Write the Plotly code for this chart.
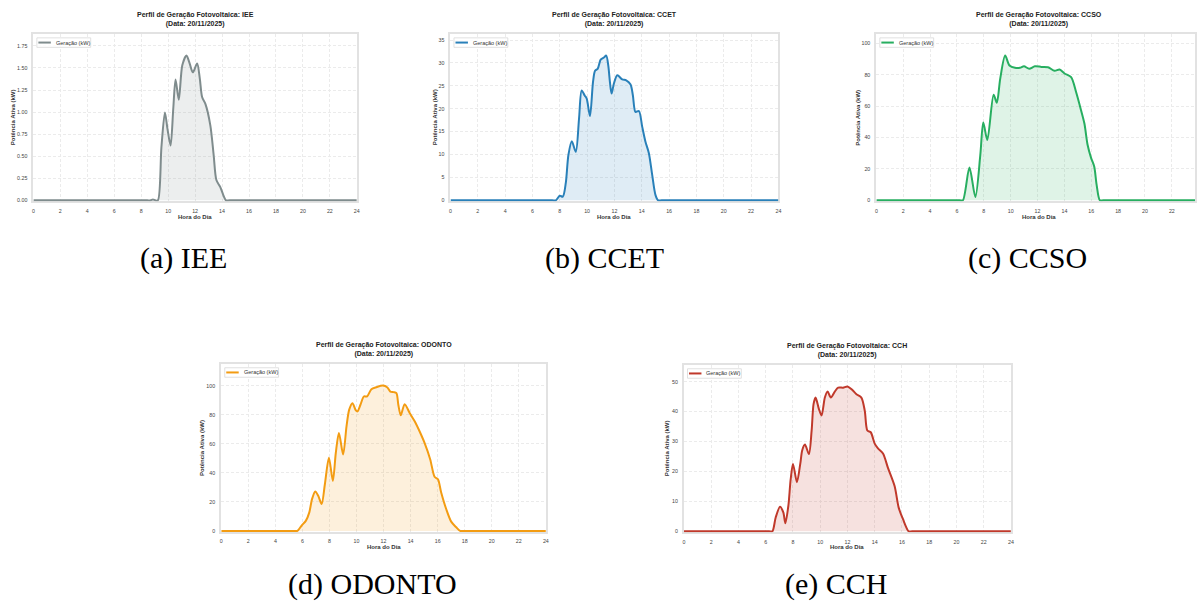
import plotly.graph_objects as go

W, H = 1198, 601

# ---------------- data ----------------
iee_hours = [0, 4, 8.45, 8.7, 8.87, 9.05, 9.24, 9.5, 9.76, 9.95, 10.18, 10.38, 10.55, 10.79, 11.05, 11.36,
             11.6, 11.83, 12.15, 12.35, 12.52, 12.77, 13.13, 13.38, 13.58, 13.87, 14.29, 14.55, 19, 24]
iee_kw = [0, 0, 0, 0, 0.01, 0, 0, 0.6, 0.995, 0.81, 0.62, 1.04, 1.37, 1.14, 1.53, 1.64,
          1.55, 1.45, 1.55, 1.38, 1.17, 1.09, 0.85, 0.51, 0.23, 0.15, 0, 0, 0, 0]

ccet_hours = [0, 4, 7.45, 7.71, 8.0, 8.22, 8.44, 8.63, 8.88, 9.17, 9.41, 9.6, 9.82, 9.97, 10.21, 10.43, 10.58,
              10.77, 10.99, 11.23, 11.4, 11.55, 11.67, 11.79, 11.96, 12.21, 12.57, 12.86, 13.18,
              13.35, 13.54, 13.79, 14.03, 14.27, 14.52, 14.76, 15.0, 15.2, 15.45, 19, 24]
ccet_kw = [0, 0, 0, 0, 1.0, 0.8, 3.8, 9.9, 12.9, 10.6, 17.9, 24.0, 22.9, 22.2, 18.4, 25.8, 28.3,
           28.7, 30.7, 31.2, 31.6, 29.4, 25.8, 23.3, 25.5, 27.3, 26.4, 26.2, 25.3,
           22.9, 19.3, 19.5, 16.1, 12.8, 10.3, 5.6, 1.2, 0, 0, 0, 0]

ccso_hours = [0, 3, 6.2, 6.44, 6.93, 7.37, 7.74, 7.96, 8.26, 8.73, 8.97, 9.22, 9.59, 9.91, 10.32, 10.69,
              10.99, 11.38, 11.8, 12.29, 12.78, 13.27, 13.64, 14.01, 14.5, 14.87, 15.24, 15.49,
              15.73, 15.98, 16.22, 16.4, 16.64, 16.9, 20, 24]
ccso_kw = [0, 0, 0, 0, 20.9, 2.1, 28.9, 49.6, 38.4, 67.3, 62.2, 77.4, 92.2, 85.9, 84.4, 84.4,
           85.4, 83.8, 85.4, 85.0, 84.8, 82.5, 83.3, 80.8, 78.5, 69.0, 57.4, 48.9,
           35.2, 27.2, 21.5, 9.9, 0, 0, 0, 0]

odonto_hours = [0, 3, 5.4, 5.63, 5.94, 6.26, 6.51, 6.71, 6.95, 7.17, 7.42, 7.66, 7.96, 8.25, 8.47, 8.7,
                9.01, 9.26, 9.46, 9.7, 9.95, 10.07, 10.29, 10.54, 10.78, 11.1, 11.47, 11.96,
                12.26, 12.5, 12.75, 12.95, 13.09, 13.27, 13.56, 13.93, 14.3, 14.66, 15.03,
                15.45, 15.77, 16.02, 16.26, 16.63, 17.0, 17.37, 17.66, 17.95, 21, 24]
odonto_kw = [0, 0, 0, 0, 3.7, 7.1, 12.8, 21.9, 27.2, 24.2, 18.5, 32.2, 50.5, 34.5, 53.9, 67.6,
             52.7, 72.1, 83.6, 88.1, 83.1, 82.4, 87.0, 92.7, 92.7, 97.7, 99.1, 100.2,
             99.1, 96.1, 95.7, 95.0, 87.0, 79.7, 87.4, 81.3, 75.6, 68.7, 60.7,
             49.3, 37.4, 35.6, 26.5, 15.1, 6.4, 2.5, 0, 0, 0, 0]

cch_hours = [0, 3, 6.25, 6.49, 6.73, 7.05, 7.29, 7.44, 7.66, 7.83, 8.0, 8.29, 8.54, 8.68, 8.88, 9.17,
             9.37, 9.51, 9.66, 9.9, 10.1, 10.34, 10.54, 10.78, 11.07, 11.32, 11.68, 12.0,
             12.34, 12.66, 13.02, 13.27, 13.46, 13.71, 14.0, 14.24, 14.61, 14.98, 15.46,
             15.76, 16.07, 16.49, 16.75, 20, 24]
cch_kw = [0, 0, 0, 0, 4.6, 8.2, 6.3, 2.7, 8.5, 17.3, 22.5, 16.4, 22.7, 27.1, 29.0, 25.8,
          33.7, 42.5, 44.7, 40.9, 38.7, 44.7, 46.7, 44.7, 46.7, 48.0, 48.0, 48.4,
          47.3, 45.8, 44.7, 40.3, 33.7, 33.1, 29.3, 27.7, 26.0, 21.1, 15.1,
          7.9, 4.1, 0, 0, 0, 0]

x_ticks = list(range(0, 25, 2))
title_line1 = "Perfil de Geração Fotovoltaica: {}"
title_line2 = "(Data: 20/11/2025)"
x_label = "Hora do Dia"
y_label = "Potência Ativa (kW)"
legend_label = "Geração (kW)"

# ---------------- layout constants ----------------
SANS = "Liberation Sans, Arial, sans-serif"
SERIF = "Liberation Serif, Times New Roman, serif"

panels = [
    dict(name="IEE", hours=iee_hours, kw=iee_kw, rgb=(127, 140, 141), box=(32.5, 34, 357, 202),
         xmax=24, dtick=0.25, fmt=".2f", ytitle_x=11.7, cap="(a) IEE", cap_xy=(183, 259)),
    dict(name="CCET", hours=ccet_hours, kw=ccet_kw, rgb=(41, 128, 185), box=(451, 34, 780, 202),
         xmax=24, dtick=5, fmt="d", ytitle_x=435, cap="(b) CCET", cap_xy=(606, 259)),
    dict(name="CCSO", hours=ccso_hours, kw=ccso_kw, rgb=(39, 174, 96), box=(878.3, 34, 1200, 202),
         xmax=(1200 - 878.3) / 13.56, dtick=20, fmt="d", ytitle_x=859, cap="(c) CCSO", cap_xy=(1030, 259)),
    dict(name="ODONTO", hours=odonto_hours, kw=odonto_kw, rgb=(243, 156, 18), box=(221, 365, 546.7, 533.7),
         xmax=24, dtick=20, fmt="d", ytitle_x=201.7, cap="(d) ODONTO", cap_xy=(373, 586)),
    dict(name="CCH", hours=cch_hours, kw=cch_kw, rgb=(192, 57, 43), box=(685.3, 366, 1013.3, 534),
         xmax=24, dtick=10, fmt="d", ytitle_x=668, cap="(e) CCH", cap_xy=(838, 586)),
]


def px_x(v):
    return v / W


def px_y(v):
    return 1 - v / H


fig = go.Figure()
layout = dict(
    width=W, height=H, margin=dict(l=0, r=0, t=0, b=0),
    paper_bgcolor="white", plot_bgcolor="white", showlegend=False,
    font=dict(family=SANS, color="#444"),
)
annotations = []
shapes = []

for i, p in enumerate(panels):
    k = "" if i == 0 else str(i + 1)
    l, t, r, b = p["box"]
    rr, gg, bb = p["rgb"]
    color = "rgb({},{},{})".format(rr, gg, bb)
    fill = "rgba({},{},{},0.15)".format(rr, gg, bb)
    ymax = max(p["kw"]) * 1.15
    plot_h = b - t
    ymin = -ymax * 1.0 / plot_h  # 1 px below zero so the zero line shows fully

    fig.add_trace(go.Scatter(
        x=p["hours"], y=p["kw"], mode="lines", name=legend_label,
        line=dict(color=color, width=2, shape="spline", smoothing=0.8),
        fill="tozeroy", fillcolor=fill,
        xaxis="x" + k, yaxis="y" + k, hoverinfo="x+y",
    ))

    common = dict(showgrid=True, gridcolor="#ebebeb", griddash="3px,2px", gridwidth=0.8,
                  showline=True, mirror=True, linecolor="#e2e2e2", linewidth=2,
                  zeroline=False, ticks="", layer="below traces",
                  tickfont=dict(size=5.3, color="#444", family=SANS))
    layout["xaxis" + k] = dict(common, domain=[px_x(l), min(1.0, px_x(r))], range=[0, p["xmax"]],
                               tickvals=x_ticks, anchor="y" + k, ticklabelstandoff=3)
    layout["yaxis" + k] = dict(common, domain=[px_y(b), px_y(t)], range=[ymin, ymax],
                               dtick=p["dtick"], tickformat=p["fmt"], anchor="x" + k,
                               tick0=0, ticklabelstandoff=3)

    cx = l + 12 * (r - l) / p["xmax"]
    # title
    annotations.append(dict(
        x=px_x(cx), y=px_y(t - 4), xref="paper", yref="paper", xanchor="center", yanchor="bottom",
        text="<b>" + title_line1.format(p["name"]) + "</b><br><b>" + title_line2 + "</b>",
        showarrow=False, font=dict(size=7, color="#222", family=SANS)))
    # x label
    annotations.append(dict(
        x=px_x(cx), y=px_y(b + 15.3), xref="paper", yref="paper", xanchor="center", yanchor="middle",
        text="<b>" + x_label + "</b>", showarrow=False, font=dict(size=6, color="#333", family=SANS)))
    # y label
    annotations.append(dict(
        x=px_x(p["ytitle_x"]), y=px_y((t + b) / 2), xref="paper", yref="paper",
        xanchor="center", yanchor="middle", textangle=-90,
        text="<b>" + y_label + "</b>", showarrow=False, font=dict(size=6, color="#333", family=SANS)))
    # caption
    annotations.append(dict(
        x=px_x(p["cap_xy"][0]), y=px_y(p["cap_xy"][1]), xref="paper", yref="paper",
        xanchor="center", yanchor="middle", text=p["cap"], showarrow=False,
        font=dict(size=30, color="black", family=SERIF)))
    # legend box
    shapes.append(dict(type="rect", xref="paper", yref="paper",
                       x0=px_x(l + 3.5), x1=px_x(l + 57.5), y0=px_y(t + 13.5), y1=px_y(t + 4),
                       line=dict(color="#d8d8d8", width=0.8), fillcolor="rgba(255,255,255,0.85)"))
    shapes.append(dict(type="line", xref="paper", yref="paper",
                       x0=px_x(l + 5), x1=px_x(l + 17.5), y0=px_y(t + 8.7), y1=px_y(t + 8.7),
                       line=dict(color=color, width=2)))
    annotations.append(dict(
        x=px_x(l + 20.5), y=px_y(t + 8.7), xref="paper", yref="paper", xanchor="left", yanchor="middle",
        text=legend_label, showarrow=False, font=dict(size=5.5, color="#333", family=SANS)))

layout["annotations"] = annotations
layout["shapes"] = shapes
fig.update_layout(**layout)
fig.write_html("out.html")
